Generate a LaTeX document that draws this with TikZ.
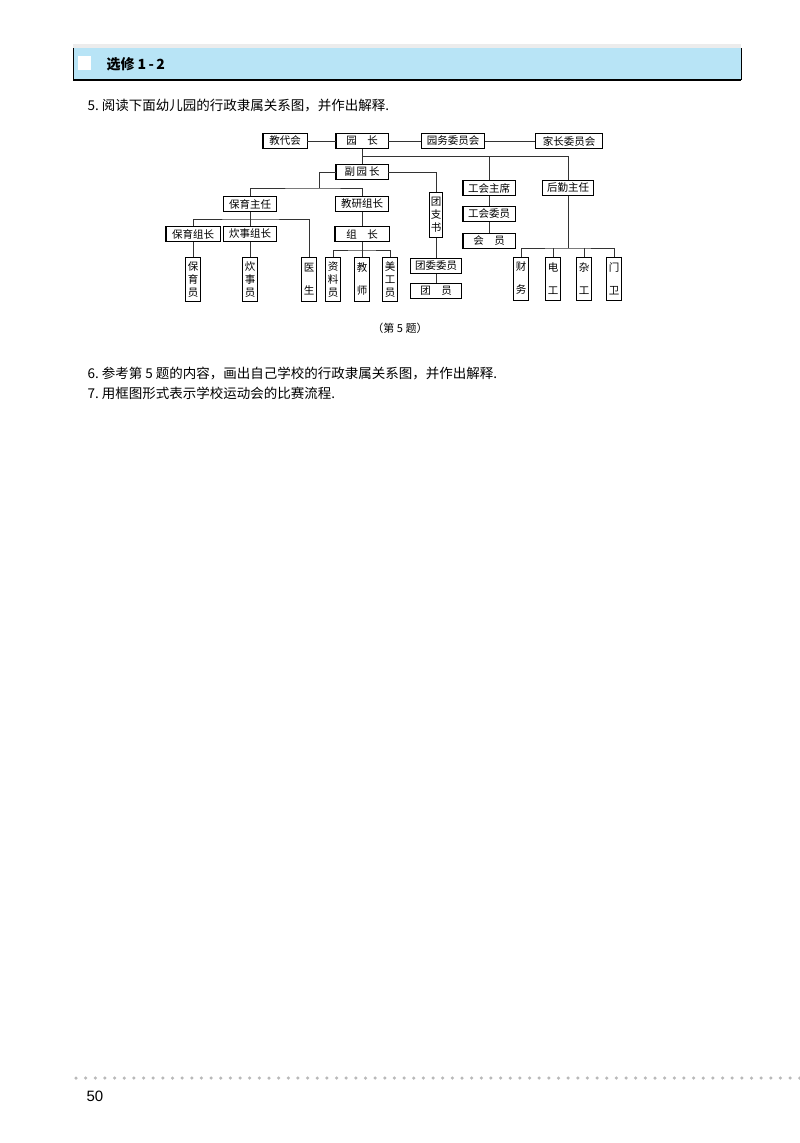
\documentclass[tikz,border=0pt]{standalone}
\usepackage{fontspec}
\setmainfont{Liberation Serif}
\newfontfamily\cjk{Noto Sans CJK SC}
\newfontfamily\pagenum{Liberation Sans}
\definecolor{banner}{RGB}{184,228,246}

\begin{document}
\begin{tikzpicture}[x=1pt, y=-1pt,
	hbox/.style={draw, line width=0.5pt, fill=white, inner sep=0pt, minimum height=15pt, font=\cjk\fontsize{10.5}{12}\selectfont},
	vbox/.style={draw, line width=0.5pt, fill=white, inner sep=0pt, minimum width=15pt, minimum height=44pt, align=center, font=\cjk\fontsize{10.5}{13}\selectfont},
	link/.style={line width=0.6pt, black!80},
	body/.style={anchor=west, font=\cjk\fontsize{13.5}{16}\selectfont}]
	\useasboundingbox (0,0) rectangle (800,1143);
	\fill[gray!15] (73,44) rectangle (741,48);
	\fill[banner] (73,48) rectangle (741,80);
	\draw[line width=0.8pt] (73,48) -- (73,80) (741,48) -- (741,80);
	\draw[line width=1.6pt] (73,80) -- (741,80);
	\fill[white] (78,56) rectangle (91,70);
	\node[anchor=west, font=\cjk\bfseries\fontsize{14}{16}\selectfont] (title) at (103,64) {选修 1\,-\,2};
	\node[body] (q5) at (84,106) {5.\ 阅读下面幼儿园的行政隶属关系图，并作出解释.};
	\node[hbox, minimum width=44pt] (jdh) at (285,141) {教代会};
	\node[hbox, minimum width=52pt] (yz) at (362,141) {园\quad 长};
	\node[hbox, minimum width=63pt] (ywh) at (453,141) {园务委员会};
	\node[hbox, minimum width=67pt] (jzh) at (569,141) {家长委员会};
	\node[hbox, minimum width=52pt] (fyz) at (362,172) {副\,园\,长};
	\node[hbox, minimum width=53pt] (byzr) at (250,204) {保育主任};
	\node[hbox, minimum width=53pt] (jyzz) at (362,204) {教研组长};
	\node[hbox, minimum width=52pt] (ghzx) at (489,188) {工会主席};
	\node[hbox, minimum width=51pt] (hqzr) at (568,188) {后勤主任};
	\node[vbox, minimum width=13pt, minimum height=45pt] (tzs) at (436,215) {团\\支\\书};
	\node[hbox, minimum width=54pt] (byzz) at (193,234) {保育组长};
	\node[hbox, minimum width=53pt] (czzz) at (250,234) {炊事组长};
	\node[hbox, minimum width=54pt] (zz) at (362,234) {组\quad 长};
	\node[hbox, minimum width=52pt] (ghwy) at (489,214) {工会委员};
	\node[hbox, minimum width=52pt] (hy) at (489,241) {会\quad 员};
	\node[vbox] (byy) at (193,279.5) {保\\育\\员};
	\node[vbox] (czy) at (250,279.5) {炊\\事\\员};
	\node[vbox] (ys) at (309,279.5) {医\\[10pt]生};
	\node[vbox] (zly) at (333,279.5) {资\\料\\员};
	\node[vbox] (js) at (362,279.5) {教\\[10pt]师};
	\node[vbox] (mgy) at (390,279.5) {美\\工\\员};
	\node[hbox, minimum width=51pt] (twwy) at (436,266) {团委委员};
	\node[hbox, minimum width=51pt] (ty) at (436,291) {团\quad 员};
	\node[vbox, minimum height=43pt] (cw) at (521,278.5) {财\\[10pt]务};
	\node[vbox, minimum height=43pt] (dg) at (553,278.5) {电\\[10pt]工};
	\node[vbox, minimum height=43pt] (zg) at (584,278.5) {杂\\[10pt]工};
	\node[vbox, minimum height=43pt] (mw) at (614,278.5) {门\\[10pt]卫};
	\foreach \n in {jdh,yz,ywh,jzh,fyz,byzr,jyzz,ghzx,hqzr,tzs,byzz,czzz,zz,ghwy,hy,byy,czy,ys,zly,js,mgy,twwy,ty,cw,dg,zg,mw}
		\draw[line width=1.3pt] (\n.north west) -- (\n.south west) (\n.north east) -- (\n.south east);
	\coordinate (b1) at (362,156);
	\coordinate (b2) at (319,188);
	\coordinate (b3) at (250,219);
	\coordinate (b4) at (362,250);
	\coordinate (b5) at (568,248);
	\draw[link] (jdh) -- (yz) -- (ywh) -- (jzh);
	\draw[link] (yz) -- (fyz);
	\draw[link] (b1) -| (ghzx);
	\draw[link] (b1) -| (hqzr);
	\draw[link] (fyz) -| (b2);
	\draw[link] (byzr) |- (b2) -| (jyzz);
	\draw[link] (fyz) -| (tzs);
	\draw[link] (byzr) -- (czzz);
	\draw[link] (byzz) |- (b3) -| (ys);
	\draw[link] (byzz) -- (byy);
	\draw[link] (czzz) -- (czy);
	\draw[link] (jyzz) -- (zz);
	\draw[link] (zz) -- (js);
	\draw[link] (zly) |- (b4) -| (mgy);
	\draw[link] (tzs) -- (twwy) -- (ty);
	\draw[link] (ghzx) -- (ghwy) -- (hy);
	\draw[link] (hqzr) -- (b5);
	\draw[link] (cw) |- (b5) -| (mw);
	\draw[link] (dg) -- (dg |- b5);
	\draw[link] (zg) -- (zg |- b5);
	\node[font=\cjk\fontsize{11}{13}\selectfont] (cap) at (400,328) {（第 5 题）};
	\node[body] (q6) at (84,373) {6.\ 参考第 5 题的内容，画出自己学校的行政隶属关系图，并作出解释.};
	\node[body] (q7) at (84,393) {7.\ 用框图形式表示学校运动会的比赛流程.};
	\draw[gray!55, line width=3.5pt, line cap=round, dash pattern=on 0pt off 9.65pt] (76,1078) -- (800,1078);
	\node[anchor=west, font=\pagenum\fontsize{15}{17}\selectfont] (pg) at (83,1096) {50};
\end{tikzpicture}
\end{document}
